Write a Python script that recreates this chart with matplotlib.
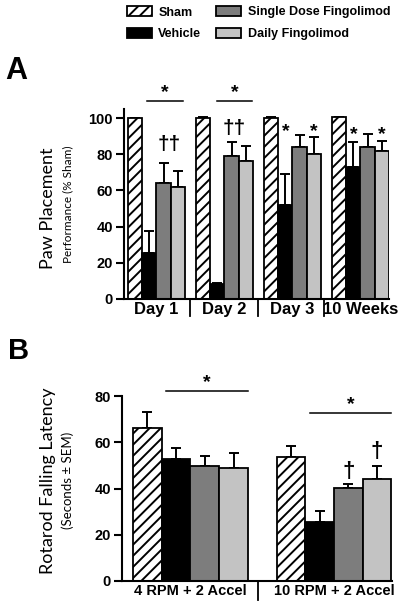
import numpy as np
import matplotlib
matplotlib.use("Agg")
import matplotlib.pyplot as plt
from matplotlib.patches import Patch
import matplotlib.transforms as mtransforms

plt.rcParams['font.family'] = ['Liberation Sans', 'DejaVu Sans']
plt.rcParams['hatch.linewidth'] = 1.4

# --- data ---
groups = ['Sham', 'Vehicle', 'Single Dose Fingolimod', 'Daily Fingolimod']
colors = ['white', 'black', '#7d7d7d', '#c3c3c3']
hatches = ['///', None, None, None]

a_labels = ['Day 1', 'Day 2', 'Day 3', '10 Weeks']
a_sham = [100, 100, 100, 100.5]
a_sham_err = [0, 0.5, 0.5, 0.3]
a_vehicle = [25.4, 8.5, 52.1, 72.7]
a_vehicle_err = [12.4, 0.3, 17.1, 13.9]
a_single = [63.9, 79.0, 84.2, 84.2]
a_single_err = [11.2, 7.6, 6.4, 7.1]
a_daily = [61.9, 76.0, 80.3, 82.0]
a_daily_err = [8.8, 8.3, 9.2, 5.3]

b_labels = ['4 RPM + 2 Accel', '10 RPM + 2 Accel']
b_sham = [66.3, 53.7]
b_sham_err = [6.9, 4.8]
b_vehicle = [52.6, 25.6]
b_vehicle_err = [4.7, 4.8]
b_single = [49.7, 40.3]
b_single_err = [4.3, 1.5]
b_daily = [49.0, 44.1]
b_daily_err = [6.5, 5.8]

fig = plt.figure(figsize=(4.06, 6.06), dpi=100)


def draw_bars(ax, means, errs, width):
    x = np.arange(len(means[0]))
    for i, (m, e) in enumerate(zip(means, errs)):
        pos = x + (i - 1.5) * width
        ax.bar(pos, m, width, color=colors[i], edgecolor='black', linewidth=1.3,
               hatch=hatches[i], zorder=2)
        ax.errorbar(pos, m, yerr=[np.zeros(len(e)), e], fmt='none', ecolor='black',
                    elinewidth=1.4, capsize=3.5, capthick=1.4, zorder=1)
    return x


def style_axis(ax, labels, x, seps, sep_len, lab_size):
    for s in ['top', 'right']:
        ax.spines[s].set_visible(False)
    ax.spines['left'].set_linewidth(1.5)
    ax.spines['bottom'].set_linewidth(1.5)
    ax.tick_params(axis='y', direction='out', length=6, width=1.5, labelsize=10.5, pad=2)
    for t in ax.get_yticklabels():
        t.set_fontweight('bold')
    ax.set_xticks(x)
    ax.set_xticklabels(labels, fontsize=lab_size, fontweight='bold')
    ax.tick_params(axis='x', length=0, pad=2)
    trans = mtransforms.blended_transform_factory(ax.transData, ax.transAxes)
    for s in seps:
        ax.plot([s, s], [0, -sep_len], color='black', lw=1.3, transform=trans, clip_on=False)


def sig_line(ax, x0, x1, y, size=14):
    ax.plot([x0, x1], [y, y], color='black', lw=1.1, clip_on=False)
    ax.text((x0 + x1) / 2, y, '*', ha='center', va='bottom', fontsize=size,
            fontweight='bold', clip_on=False)


# --- panel A ---
axA = fig.add_axes([124 / 406, 307 / 606, 265 / 406, 190 / 606])
xA = draw_bars(axA, [a_sham, a_vehicle, a_single, a_daily],
               [a_sham_err, a_vehicle_err, a_single_err, a_daily_err], 0.21)
axA.set_xlim(-0.478, 3.42)
axA.set_ylim(0, 105)
axA.set_yticks([0, 20, 40, 60, 80, 100])
style_axis(axA, a_labels, xA, [0.49, 1.49, 2.46], 0.09, 12)

sig_line(axA, -0.14, 0.39, 109.5)
sig_line(axA, 0.89, 1.40, 109.5)
axA.text(0.19, 80, '††', ha='center', va='bottom', fontsize=15, fontweight='bold')
axA.text(1.15, 89, '††', ha='center', va='bottom', fontsize=15, fontweight='bold')
for xs, ys in [(1.895, 88), (2.315, 88), (2.895, 86), (3.315, 86)]:
    axA.text(xs, ys, '*', ha='center', va='bottom', fontsize=14, fontweight='bold')

fig.text(48 / 406, 1 - 208 / 606, 'Paw Placement', rotation=90, ha='center',
         va='center', fontsize=13, family=['Lato', 'DejaVu Sans'])
fig.text(68 / 406, 1 - 204 / 606, 'Performance (% Sham)', rotation=90, ha='center',
         va='center', fontsize=8.5, family=['Lato', 'DejaVu Sans'])
fig.text(5 / 406, 1 - 71 / 606, 'A', ha='left', va='center', fontsize=22, fontweight='bold')

# --- panel B ---
axB = fig.add_axes([122 / 406, 25 / 606, 270 / 406, 185 / 606])
xB = draw_bars(axB, [b_sham, b_vehicle, b_single, b_daily],
               [b_sham_err, b_vehicle_err, b_single_err, b_daily_err], 0.2)
axB.set_xlim(-0.477, 1.404)
axB.set_ylim(0, 80)
axB.set_yticks([0, 20, 40, 60, 80])
style_axis(axB, b_labels, xB, [0.47], 0.1, 10.5)

sig_line(axB, -0.17, 0.40, 82.2)
sig_line(axB, 0.83, 1.40, 72.6)
axB.text(1.10, 43, '†', ha='center', va='bottom', fontsize=16, fontweight='bold')
axB.text(1.30, 51.5, '†', ha='center', va='bottom', fontsize=16, fontweight='bold')

fig.text(48 / 406, 1 - 481 / 606, 'Rotarod Falling Latency', rotation=90, ha='center',
         va='center', fontsize=13, family=['Lato', 'DejaVu Sans'])
fig.text(68 / 406, 1 - 480 / 606, '(Seconds \u00b1 SEM)', rotation=90, ha='center',
         va='center', fontsize=9.5, family=['Lato', 'DejaVu Sans'])
fig.text(8 / 406, 1 - 351 / 606, 'B', ha='left', va='center', fontsize=21, fontweight='bold')

# --- legend ---
handles = [Patch(facecolor=colors[i], edgecolor='black', linewidth=1.3, hatch=hatches[i])
           for i in range(4)]
leg = fig.legend(handles, groups, loc='upper left', bbox_to_anchor=(127 / 406, 1 - 6 / 606),
                 ncol=2, frameon=False, prop={'weight': 'bold', 'size': 9},
                 handlelength=2.0, handleheight=0.9, columnspacing=1.2,
                 handletextpad=0.5, labelspacing=0.75, borderaxespad=0, borderpad=0)

fig.savefig('out.png', dpi=100)
